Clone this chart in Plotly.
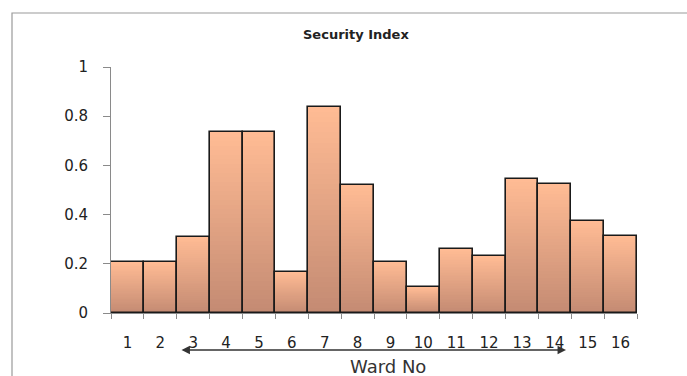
import plotly.graph_objects as go

wards = [str(i) for i in range(1, 17)]
security_index = [0.206, 0.206, 0.31, 0.735, 0.735, 0.168, 0.839, 0.52,
                  0.207, 0.104, 0.259, 0.23, 0.545, 0.523, 0.374, 0.312]
y_ticks = [0, 0.2, 0.4, 0.6, 0.8, 1]
y_tick_labels = ["0", "0.2", "0.4", "0.6", "0.8", "1"]

TOP = (255, 187, 148)
BOT = (196, 139, 115)
N = 40

fig = go.Figure()
for k in range(N):
    f = k / (N - 1)
    col = tuple(round(TOP[i] + (BOT[i] - TOP[i]) * f) for i in range(3))
    frac = (N - k) / N
    fig.add_trace(go.Bar(
        x=wards, y=[v * frac for v in security_index],
        marker=dict(color="rgb(%d,%d,%d)" % col, line=dict(width=0)),
        width=1, hoverinfo="skip", showlegend=False))
fig.add_trace(go.Bar(
    x=wards, y=security_index, width=1,
    marker=dict(color="rgba(0,0,0,0)", line=dict(color="#1a1a1a", width=1.6)),
    showlegend=False))

W, H = 687, 376
L, R, T, B = 111, 50, 67, 63
pw, ph = W - L - R, H - T - B

def px(xp):
    return (xp - L) / pw

def py(yp):
    return (H - B - yp) / ph

fig.update_layout(
    width=W, height=H, barmode="overlay", bargap=0,
    margin=dict(l=L, r=R, t=T, b=B),
    paper_bgcolor="white", plot_bgcolor="white",
    font=dict(family="DejaVu Sans", color="#222"),
    xaxis=dict(type="category", tickson="boundaries", ticks="outside",
               ticklen=5, tickcolor="#8a8a8a", showline=True,
               linecolor="#8a8a8a", linewidth=1, showgrid=False,
               tickfont=dict(size=15, color="#222"), ticklabelstandoff=16),
    yaxis=dict(range=[0, 1], tickvals=y_ticks, ticktext=y_tick_labels,
               ticks="outside", ticklen=7, tickcolor="#8a8a8a",
               showline=True, linecolor="#8a8a8a", linewidth=1,
               showgrid=False, zeroline=False,
               tickfont=dict(size=15, color="#222"), ticklabelstandoff=12),
    shapes=[dict(type="rect", xref="x domain", yref="y domain",
                 x0=px(12), x1=px(720), y0=py(420), y1=py(13),
                 line=dict(color="#9a9a9a", width=1.2),
                 fillcolor="rgba(0,0,0,0)", layer="below")],
    annotations=[
        dict(text="<b>Security Index</b>", xref="x domain", yref="y domain",
             x=px(356), y=py(34), xanchor="center", yanchor="middle",
             showarrow=False, font=dict(size=13, color="#222")),
        dict(text="Ward No", xref="x domain", yref="y domain",
             x=px(388), y=py(366), xanchor="center", yanchor="middle",
             showarrow=False, font=dict(size=18, color="#333")),
        dict(text="", xref="x domain", yref="y domain",
             axref="x domain", ayref="y domain",
             x=px(566), y=py(350), ax=px(180), ay=py(350),
             showarrow=True, arrowside="end+start", arrowhead=2,
             arrowsize=1.3, arrowwidth=1.3, arrowcolor="#333"),
    ],
)

fig.write_html("out.html", config={"displayModeBar": False},
               post_script="document.body.style.margin='0';"
                           "document.body.style.overflow='hidden';")
